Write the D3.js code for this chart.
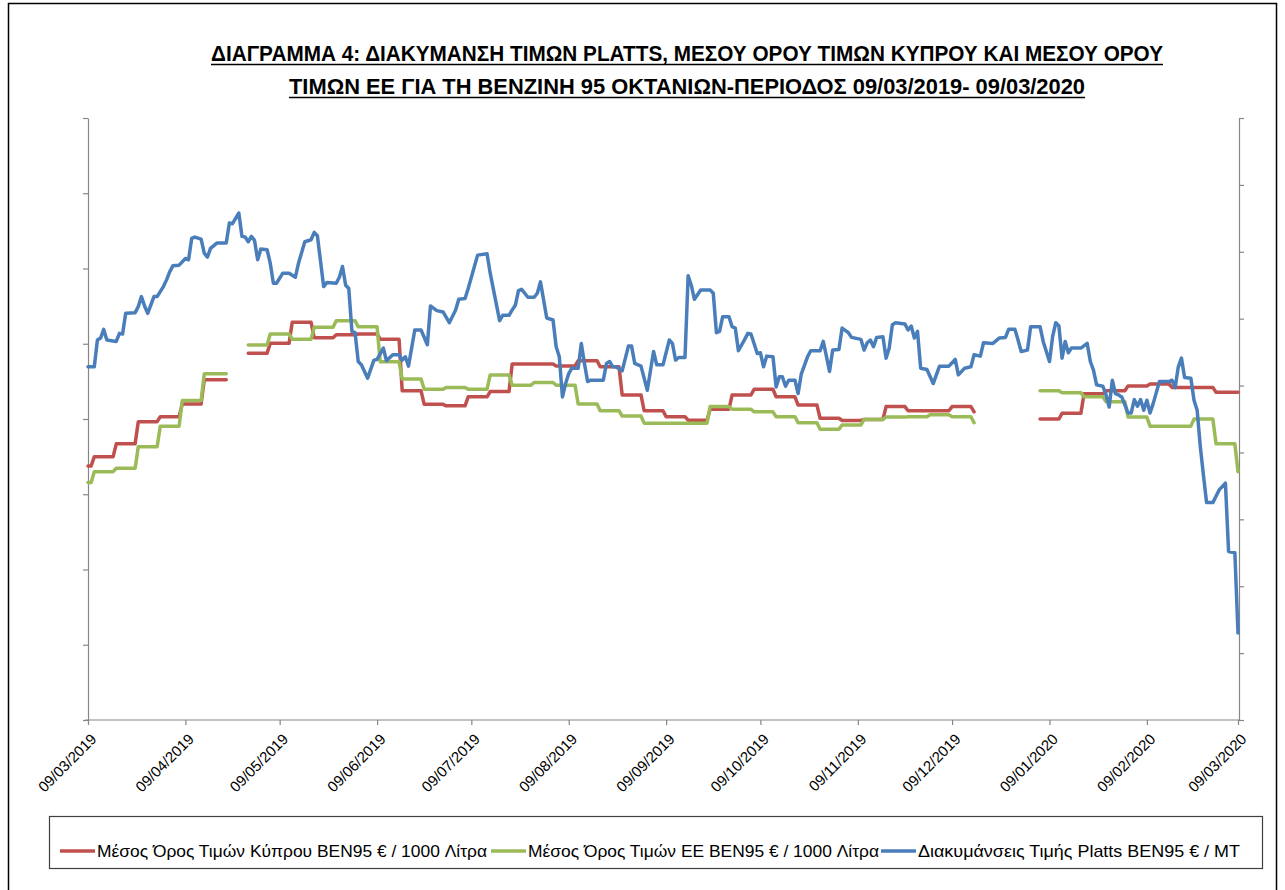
<!DOCTYPE html>
<html><head><meta charset="utf-8">
<script src="https://cdn.jsdelivr.net/npm/d3@7"></script>
<style>
body{margin:0;background:#fff;}
svg{display:block;}
</style></head><body>
<svg id="chart" width="1285" height="890"></svg>
<script>
// ---------- DATA ----------
const titleLines = [
  "ΔΙΑΓΡΑΜΜΑ 4: ΔΙΑΚΥΜΑΝΣΗ ΤΙΜΩΝ PLATTS, ΜΕΣΟΥ ΟΡΟΥ ΤΙΜΩΝ ΚΥΠΡΟΥ ΚΑΙ ΜΕΣΟΥ ΟΡΟΥ",
  "ΤΙΜΩΝ ΕΕ ΓΙΑ ΤΗ  ΒΕΝΖΙΝΗ 95 ΟΚΤΑΝΙΩΝ-ΠΕΡΙΟΔΟΣ  09/03/2019- 09/03/2020"
];
const seriesNames = [
  "Μέσος Όρος Τιμών  Κύπρου BEN95 € / 1000  Λίτρα",
  "Μέσος Όρος Τιμών  ΕΕ BEN95 € / 1000  Λίτρα",
  "Διακυμάνσεις Τιμής Platts BEN95 € / MT"
];
const monthTicks = ["2019-03-09","2019-04-09","2019-05-09","2019-06-09","2019-07-09","2019-08-09",
  "2019-09-09","2019-10-09","2019-11-09","2019-12-09","2020-01-09","2020-02-09","2020-03-09"];
const leftTicks = [0,200,400,600,800,1000,1200,1400,1600];
const rightTicks = [0,100,200,300,400,500,600,700,800,900];

// weekly averages (€/1000 L); null = no data
const weekDates = ["2019-03-09","2019-03-11","2019-03-18","2019-03-25","2019-04-01","2019-04-08","2019-04-15","2019-04-22","2019-04-23",
  "2019-04-29","2019-05-06","2019-05-13","2019-05-20","2019-05-27","2019-06-03","2019-06-10","2019-06-17","2019-06-24",
  "2019-07-01","2019-07-08","2019-07-15","2019-07-22","2019-07-29","2019-08-05","2019-08-12","2019-08-19","2019-08-26",
  "2019-09-02","2019-09-09","2019-09-16","2019-09-23","2019-09-30","2019-10-07","2019-10-14","2019-10-21","2019-10-28",
  "2019-11-04","2019-11-11","2019-11-18","2019-11-25","2019-12-02","2019-12-09","2019-12-16","2019-12-17",
  "2020-01-06","2020-01-13","2020-01-20","2020-01-27","2020-02-03","2020-02-10","2020-02-17","2020-02-24","2020-03-02","2020-03-09"];
const cyprusValues = [675,700,734,793,806,840,904,904,null,
  975,1001,1057,1016,1024,1026,1012,875,839,
  835,859,873,946,946,941,955,939,864,
  822,806,797,826,864,879,859,837,802,
  796,799,833,822,822,833,819,null,
  800,815,867,875,888,893,884,884,871,871];
const euValues = [631,660,669,726,781,849,920,920,null,
  997,1026,1012,1044,1061,1045,952,906,879,
  884,879,917,890,897,890,840,822,808,
  789,789,789,833,826,819,806,790,773,
  784,799,805,806,811,806,790,null,
  875,870,859,846,805,781,781,800,734,660];

// Platts (€/MT)
const plattsDates = ["2019-03-09","2019-03-11","2019-03-12","2019-03-13","2019-03-14","2019-03-15","2019-03-18","2019-03-19","2019-03-20","2019-03-21",
  "2019-03-24","2019-03-25","2019-03-26","2019-03-27","2019-03-28","2019-03-30","2019-03-31","2019-04-02","2019-04-03","2019-04-04",
  "2019-04-05","2019-04-07","2019-04-09","2019-04-10","2019-04-11","2019-04-12","2019-04-14","2019-04-15","2019-04-16","2019-04-17",
  "2019-04-19","2019-04-22","2019-04-23","2019-04-24","2019-04-26","2019-04-27","2019-04-28","2019-04-29","2019-04-30","2019-05-01",
  "2019-05-02","2019-05-03","2019-05-05","2019-05-06","2019-05-07","2019-05-08","2019-05-10","2019-05-12","2019-05-14","2019-05-15",
  "2019-05-17","2019-05-19","2019-05-20","2019-05-21","2019-05-23","2019-05-24","2019-05-27","2019-05-28","2019-05-29","2019-05-30",
  "2019-05-31","2019-06-01","2019-06-02","2019-06-03","2019-06-04","2019-06-06","2019-06-08","2019-06-09","2019-06-11","2019-06-12",
  "2019-06-14","2019-06-16","2019-06-17","2019-06-18","2019-06-19","2019-06-21","2019-06-23","2019-06-25","2019-06-26","2019-06-28",
  "2019-06-30","2019-07-02","2019-07-04","2019-07-05","2019-07-07","2019-07-08","2019-07-11","2019-07-14","2019-07-15","2019-07-18",
  "2019-07-19","2019-07-21","2019-07-22","2019-07-23","2019-07-24","2019-07-25","2019-07-27","2019-07-29","2019-07-30","2019-07-31",
  "2019-08-02","2019-08-04","2019-08-05","2019-08-06","2019-08-07","2019-08-08","2019-08-09","2019-08-10","2019-08-12","2019-08-13",
  "2019-08-14","2019-08-15","2019-08-16","2019-08-20","2019-08-21","2019-08-22","2019-08-23","2019-08-24","2019-08-26","2019-08-28",
  "2019-08-29","2019-08-30","2019-09-01","2019-09-03","2019-09-05","2019-09-06","2019-09-08","2019-09-10","2019-09-11","2019-09-12",
  "2019-09-13","2019-09-15","2019-09-16","2019-09-17","2019-09-18","2019-09-20","2019-09-23","2019-09-24","2019-09-25","2019-09-26",
  "2019-09-27","2019-09-29","2019-09-30","2019-10-01","2019-10-02","2019-10-04","2019-10-05","2019-10-06","2019-10-08","2019-10-09",
  "2019-10-10","2019-10-11","2019-10-13","2019-10-14","2019-10-15","2019-10-16","2019-10-17","2019-10-18","2019-10-20","2019-10-21",
  "2019-10-22","2019-10-24","2019-10-25","2019-10-28","2019-10-29","2019-10-30","2019-10-31","2019-11-01","2019-11-03","2019-11-04",
  "2019-11-06","2019-11-07","2019-11-10","2019-11-11","2019-11-12","2019-11-13","2019-11-14","2019-11-15","2019-11-17","2019-11-18",
  "2019-11-19","2019-11-20","2019-11-21","2019-11-24","2019-11-25","2019-11-26","2019-11-27","2019-11-28","2019-11-29","2019-12-01",
  "2019-12-03","2019-12-05","2019-12-08","2019-12-10","2019-12-11","2019-12-13","2019-12-15","2019-12-16","2019-12-18","2019-12-19",
  "2019-12-22","2019-12-24","2019-12-26","2019-12-27","2019-12-29","2019-12-30","2019-12-31","2020-01-02","2020-01-03","2020-01-06",
  "2020-01-07","2020-01-09","2020-01-10","2020-01-11","2020-01-12","2020-01-13","2020-01-14","2020-01-15","2020-01-16","2020-01-19",
  "2020-01-21","2020-01-22","2020-01-23","2020-01-24","2020-01-26","2020-01-27","2020-01-28","2020-01-29","2020-01-30","2020-01-31",
  "2020-02-01","2020-02-03","2020-02-04","2020-02-05","2020-02-06","2020-02-07","2020-02-08","2020-02-09","2020-02-10","2020-02-11",
  "2020-02-13","2020-02-16","2020-02-17","2020-02-18","2020-02-19","2020-02-20","2020-02-21","2020-02-23","2020-02-24","2020-02-25",
  "2020-02-26","2020-02-27","2020-02-28","2020-03-01","2020-03-03","2020-03-05","2020-03-06","2020-03-08","2020-03-09"];
const plattsValues = [528,528,568,571,584,568,566,578,577,608,
  609,618,633,619,608,633,633,648,658,670,
  679,680,690,688,720,722,719,698,692,705,
  713,713,743,742,758,723,722,715,723,717,
  688,704,703,683,653,653,668,668,662,683,
  715,718,729,724,648,654,653,662,678,650,
  645,581,579,536,531,511,538,539,556,537,
  546,546,538,543,529,583,583,561,619,612,
  610,594,613,629,630,645,695,697,668,597,
  605,605,613,620,642,644,632,632,638,655,
  601,598,558,543,483,503,518,526,526,563,
  533,506,508,508,533,536,528,528,522,559,
  559,533,529,493,551,531,531,568,563,538,
  542,542,664,650,629,643,643,638,579,581,
  603,603,588,586,552,569,578,577,548,549,
  528,544,543,498,513,513,499,508,508,488,
  517,543,552,552,566,544,521,553,554,586,
  579,572,569,553,564,568,558,572,573,541,
  556,591,594,592,583,589,571,581,526,524,
  503,529,529,539,516,526,528,546,544,564,
  563,571,572,584,584,568,551,553,588,588,
  566,536,573,594,589,541,566,549,556,556,
  563,536,523,501,499,486,468,508,488,486,
  483,459,459,479,469,479,463,478,459,473,
  506,506,508,497,528,541,512,511,478,463,
  409,366,325,325,344,354,252,250,130];

// ---------- CHART ----------
const svg = d3.select("#chart");
const parse = d3.timeParse("%Y-%m-%d");
const fmt = d3.timeFormat("%d/%m/%Y");
const colors = ["#C0504D", "#9BBB59", "#4A7EBB"];
const axisColor = "#868686";
const narrowFont = "'Liberation Sans Narrow','Liberation Sans',Arial,sans-serif";
const labelFont = "'Liberation Sans',Arial,sans-serif";

const x = d3.scaleTime().domain([parse("2019-03-09"), parse("2020-03-09")]).range([88, 1238]);
const yL = d3.scaleLinear().domain([0, 1600]).range([720, 118]);
const yR = d3.scaleLinear().domain([0, 900]).range([720, 118]);

// outer frame
svg.append("rect").attr("x", 8.5).attr("y", 3.5).attr("width", 1268).attr("height", 900)
  .attr("fill", "none").attr("stroke", "#000").attr("stroke-width", 1.5);

// title
const tWidths = [952, 796];
titleLines.forEach((t, i) => {
  const by = 61 + i * 33;
  svg.append("text").attr("x", 687).attr("y", by).attr("text-anchor", "middle")
    .attr("font-family", narrowFont).attr("font-weight", "bold").attr("font-size", 22)
    .attr("textLength", tWidths[i]).attr("lengthAdjust", "spacingAndGlyphs").text(t);
  svg.append("line").attr("x1", 687 - tWidths[i] / 2).attr("x2", 687 + tWidths[i] / 2)
    .attr("y1", by + 3.5).attr("y2", by + 3.5).attr("stroke", "#000").attr("stroke-width", 1.6);
});

// axes
function styleAxis(g) {
  g.selectAll("path,line").attr("stroke", axisColor).attr("stroke-width", 1.2);
}
svg.append("g").attr("transform", "translate(88,0)")
  .call(d3.axisLeft(yL).tickValues(leftTicks).tickSize(5).tickSizeOuter(0).tickFormat(""))
  .call(styleAxis);
svg.append("g").attr("transform", "translate(1239,0)")
  .call(d3.axisRight(yR).tickValues(rightTicks).tickSize(5).tickSizeOuter(0).tickFormat(""))
  .call(styleAxis);
const xg = svg.append("g").attr("transform", "translate(0,720)")
  .call(d3.axisBottom(x).tickValues(monthTicks.map(parse)).tickSize(5).tickSizeOuter(0).tickFormat(fmt))
  .call(styleAxis);
xg.select(".domain").attr("d", "M85,0H1240");
xg.selectAll("text")
  .attr("x", 0).attr("y", 0).attr("dy", 0)
  .attr("text-anchor", "end")
  .attr("transform", "translate(9,20) rotate(-45)")
  .attr("font-family", labelFont).attr("font-size", 15).attr("fill", "#000");

// step series
function stepSegments(dates, values) {
  const segs = []; let cur = null;
  dates.forEach((ds, i) => {
    const v = values[i];
    if (v == null) { cur = null; return; }
    const d = parse(ds);
    if (!cur) { cur = [[d, v]]; segs.push(cur); return; }
    const prev = cur[cur.length - 1];
    cur.push([d3.timeDay.offset(d, -1), prev[1]]);
    cur.push([d, v]);
  });
  return segs;
}
const lineL = d3.line().x(d => x(d[0])).y(d => yL(d[1]));
[[cyprusValues, colors[0]], [euValues, colors[1]]].forEach(([vals, c]) => {
  stepSegments(weekDates, vals).forEach(seg => {
    svg.append("path").attr("d", lineL(seg)).attr("fill", "none").attr("stroke", c)
      .attr("stroke-width", 3.5).attr("stroke-linejoin", "round").attr("stroke-linecap", "round");
  });
});

const lineR = d3.line().x((d, i) => x(parse(plattsDates[i]))).y(d => yR(d));
svg.append("path").attr("d", lineR(plattsValues)).attr("fill", "none").attr("stroke", colors[2])
  .attr("stroke-width", 3.5).attr("stroke-linejoin", "round").attr("stroke-linecap", "round");

// legend
svg.append("rect").attr("x", 49.5).attr("y", 816.5).attr("width", 1213).attr("height", 52)
  .attr("fill", "#fff").attr("stroke", "#404040").attr("stroke-width", 1.2);
const legendItems = [
  { lx: 60, tx: 97, tw: 390 },
  { lx: 491, tx: 528, tw: 351 },
  { lx: 881, tx: 918, tw: 322 }
];
legendItems.forEach((it, i) => {
  svg.append("line").attr("x1", it.lx).attr("x2", it.lx + 35).attr("y1", 851).attr("y2", 851)
    .attr("stroke", colors[i]).attr("stroke-width", 3.5);
  svg.append("text").attr("x", it.tx).attr("y", 857).attr("font-family", narrowFont)
    .attr("font-size", 17).attr("textLength", it.tw).attr("lengthAdjust", "spacingAndGlyphs")
    .text(seriesNames[i]);
});
</script>
</body></html>
